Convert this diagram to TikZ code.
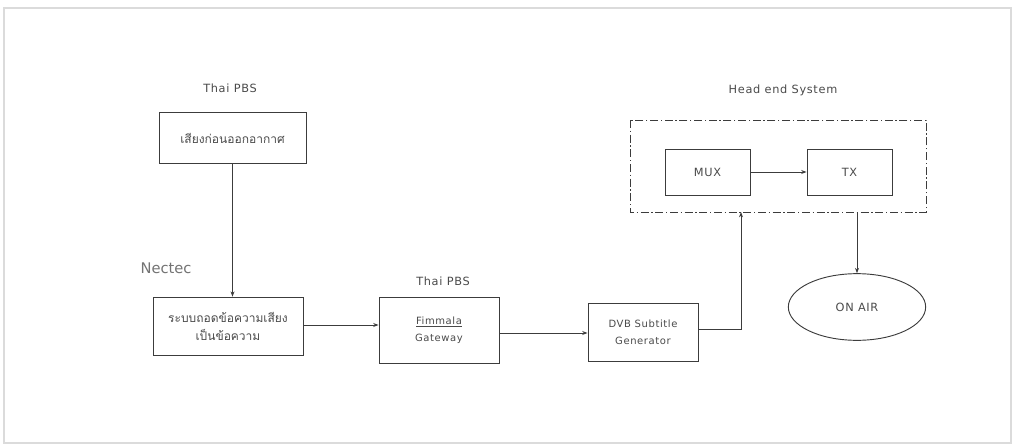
\documentclass[tikz,border=0pt]{standalone}
\usepackage{fontspec}
\setmainfont[LetterSpace=6]{DejaVu Sans}
\newfontfamily\nectecfont{DejaVu Sans}
\newfontfamily\thaifont[Script=Thai]{Loma}
\usetikzlibrary{arrows.meta,shapes.geometric}
\definecolor{ink}{HTML}{3C3C3C}
\definecolor{txt}{HTML}{4A4A4A}
\tikzset{
  px/.style={x=0.75pt,y=-0.75pt},
  blk/.style={draw=ink, line width=0.7pt, inner sep=0pt, text=txt, align=center, font=\fontsize{7.5}{13}\selectfont},
  thai/.style={font=\thaifont\fontsize{9}{14}\selectfont},
  lab/.style={text=txt, font=\fontsize{8.5}{11}\selectfont},
  conn/.style={draw=ink, line width=0.7pt, -{Stealth[length=4pt,width=3pt]}},
}
\begin{document}
\begin{tikzpicture}[px]
\useasboundingbox (0,0) rectangle (1014,446);
\draw[black!14, line width=0.8pt] (4,8) rectangle (1011,443);
% top left
\node[lab] (pbs1) at (230,88) {Thai PBS};
\node[blk, thai, minimum width=110.25pt, minimum height=38pt] (b1) at (232.5,138) {เสียงก่อนออกอากาศ};
\node[text=black!55, font=\nectecfont\fontsize{11}{13}\selectfont] (nec) at (166,268) {Nectec};
\node[blk, thai, minimum width=112.5pt, minimum height=44pt] (b2) at (228,326.5) {ระบบถอดข้อความเสียง\\เป็นข้อความ};
\node[lab] (pbs2) at (443,281) {Thai PBS};
\node[blk, minimum width=90pt, minimum height=49.5pt] (b3) at (439,330) {\underline{Fimmala}\\Gateway};
\node[blk, minimum width=82.5pt, minimum height=43.5pt] (b4) at (643,332) {DVB Subtitle\\Generator};
% head end
\node[lab] (he) at (783,90) {Head end System};
\draw[ink, line width=0.7pt, dash pattern=on 6pt off 2pt on 1pt off 2pt] (630,120) rectangle (926,212);
\coordinate (hebot) at (741,212);
\coordinate (hebot2) at (857,212);
\node[blk, minimum width=63.75pt, minimum height=34.5pt, font=\fontsize{8.5}{10}\selectfont] (mux) at (707.5,172) {MUX};
\node[blk, minimum width=63.75pt, minimum height=34.5pt, font=\fontsize{8.5}{10}\selectfont] (tx) at (849.5,172) {TX};
\node[draw=ink, line width=0.7pt, ellipse, minimum width=103pt, minimum height=50pt, inner sep=0pt, text=txt, font=\fontsize{8.5}{10}\selectfont] (air) at (857,307) {ON AIR};
% connectors
\draw[conn] (b1.south) -- (b1.south |- b2.north);
\draw[conn] (b2.east |- 0,325) -- (b3.west |- 0,325);
\draw[conn] (b3.east |- 0,333) -- (b4.west |- 0,333);
\draw[conn] (b4.east |- 0,329) -| (hebot);
\draw[conn] (mux.east) -- (tx.west);
\draw[conn] (hebot2) -- (air.north);
\end{tikzpicture}
\end{document}
